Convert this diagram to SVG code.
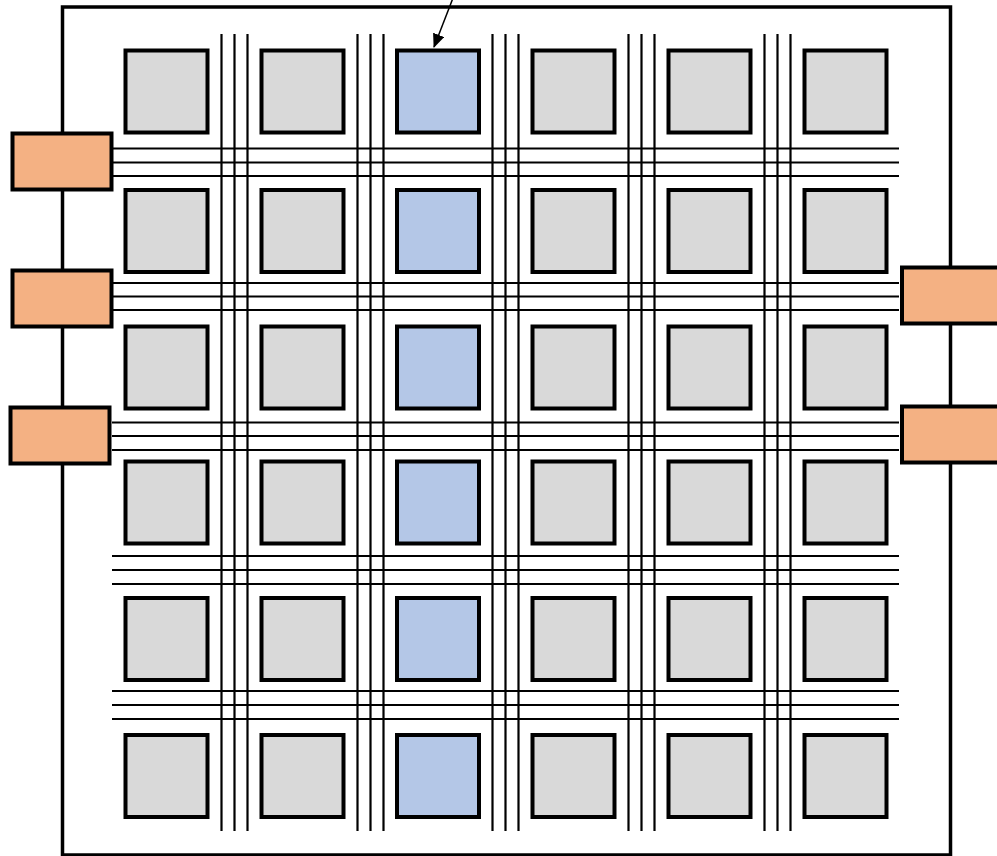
<svg xmlns="http://www.w3.org/2000/svg" width="997" height="856" viewBox="0 0 997 856">
<style>
.t{stroke:#000;stroke-width:4}
.g{fill:#d9d9d9}
.b{fill:#b4c7e7}
.o{fill:#f4b183;stroke:#000;stroke-width:4}
.w{stroke:#000;stroke-width:2.2;fill:none}
</style>
<defs>
<marker id="ah" viewBox="0 0 14 12" refX="13" refY="6" markerWidth="14" markerHeight="12" markerUnits="userSpaceOnUse" orient="auto"><path d="M0,0L14,6L0,12z" fill="#000"/></marker>
</defs>
<rect width="997" height="856" fill="#fff"/>
<rect id="chip" x="62.5" y="7" width="888" height="848" fill="#fff" stroke="#000" stroke-width="3.5"/>
<g id="wires" class="w">
<path d="M221.5,34V831M234.5,34V831M247.5,34V831M357.5,34V831M370.5,34V831M383.5,34V831M492.5,34V831M505.5,34V831M518.5,34V831M628.5,34V831M641.5,34V831M654.5,34V831M764.5,34V831M777.5,34V831M790.5,34V831"/>
<path d="M112,148.5H899M112,162.5H899M112,176H899M112,283H899M112,296.5H899M112,310H899M112,422.5H899M112,436H899M112,450H899M112,556H899M112,570H899M112,584H899M112,691H899M112,705H899M112,719H899"/>
</g>
<g id="tiles" class="t">
<g id="r1"><rect class="g" x="125.5" y="50.5" width="82" height="82"/><rect class="g" x="261.5" y="50.5" width="82" height="82"/><rect class="b" x="397" y="50.5" width="82" height="82"/><rect class="g" x="532.5" y="50.5" width="82" height="82"/><rect class="g" x="668.5" y="50.5" width="82" height="82"/><rect class="g" x="804.5" y="50.5" width="82" height="82"/></g>
<g id="r2"><rect class="g" x="125.5" y="190" width="82" height="82"/><rect class="g" x="261.5" y="190" width="82" height="82"/><rect class="b" x="397" y="190" width="82" height="82"/><rect class="g" x="532.5" y="190" width="82" height="82"/><rect class="g" x="668.5" y="190" width="82" height="82"/><rect class="g" x="804.5" y="190" width="82" height="82"/></g>
<g id="r3"><rect class="g" x="125.5" y="326.5" width="82" height="82"/><rect class="g" x="261.5" y="326.5" width="82" height="82"/><rect class="b" x="397" y="326.5" width="82" height="82"/><rect class="g" x="532.5" y="326.5" width="82" height="82"/><rect class="g" x="668.5" y="326.5" width="82" height="82"/><rect class="g" x="804.5" y="326.5" width="82" height="82"/></g>
<g id="r4"><rect class="g" x="125.5" y="461.5" width="82" height="82"/><rect class="g" x="261.5" y="461.5" width="82" height="82"/><rect class="b" x="397" y="461.5" width="82" height="82"/><rect class="g" x="532.5" y="461.5" width="82" height="82"/><rect class="g" x="668.5" y="461.5" width="82" height="82"/><rect class="g" x="804.5" y="461.5" width="82" height="82"/></g>
<g id="r5"><rect class="g" x="125.5" y="598" width="82" height="82"/><rect class="g" x="261.5" y="598" width="82" height="82"/><rect class="b" x="397" y="598" width="82" height="82"/><rect class="g" x="532.5" y="598" width="82" height="82"/><rect class="g" x="668.5" y="598" width="82" height="82"/><rect class="g" x="804.5" y="598" width="82" height="82"/></g>
<g id="r6"><rect class="g" x="125.5" y="735" width="82" height="82"/><rect class="g" x="261.5" y="735" width="82" height="82"/><rect class="b" x="397" y="735" width="82" height="82"/><rect class="g" x="532.5" y="735" width="82" height="82"/><rect class="g" x="668.5" y="735" width="82" height="82"/><rect class="g" x="804.5" y="735" width="82" height="82"/></g>
</g>
<g id="io">
<rect id="ioL1" class="o" x="12.5" y="133.5" width="99" height="56"/>
<rect id="ioL2" class="o" x="12.5" y="270.5" width="99" height="56"/>
<rect id="ioL3" class="o" x="10.5" y="407.5" width="99" height="56"/>
<rect id="ioR1" class="o" x="902" y="267.5" width="100" height="56"/>
<rect id="ioR2" class="o" x="902" y="406.5" width="100" height="56"/>
</g>
<g id="connectors">
<line x1="453" y1="-2" x2="434" y2="47" stroke="#000" stroke-width="1.5" marker-end="url(#ah)"/>
</g>
</svg>
